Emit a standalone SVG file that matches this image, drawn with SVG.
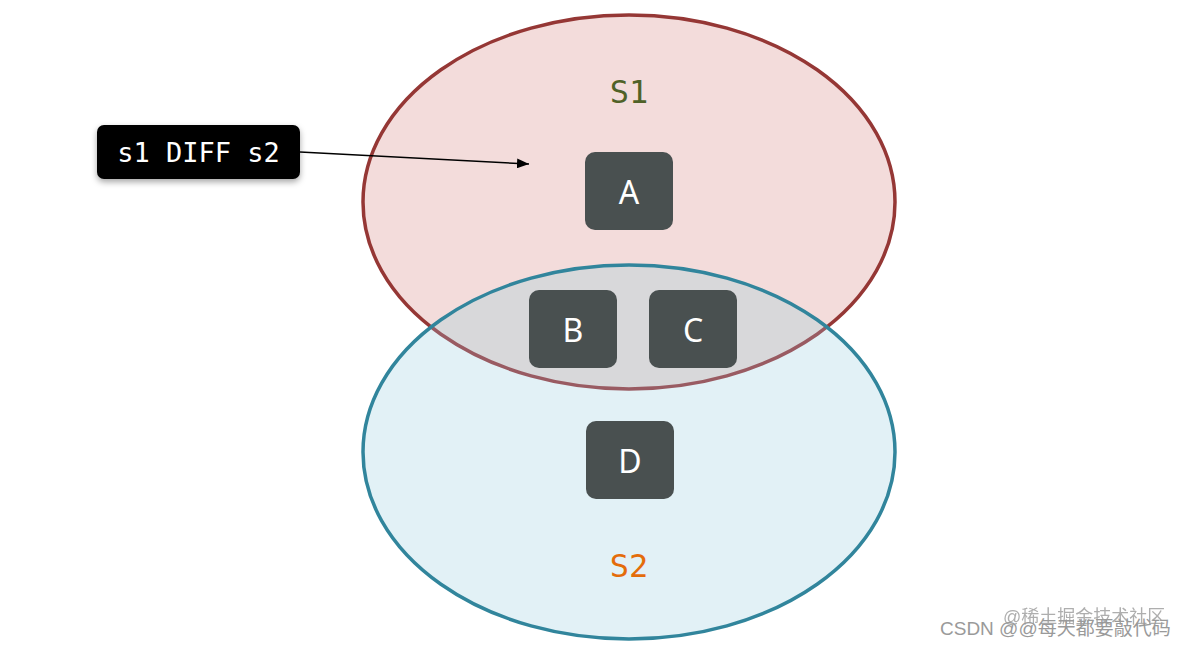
<svg xmlns="http://www.w3.org/2000/svg" width="1183" height="647" viewBox="0 0 1183 647">
<style>
.box{fill:#495050}
.lt{fill:#ffffff;font-family:"Noto Sans","DejaVu Sans",sans-serif;font-size:32px;text-anchor:middle;dominant-baseline:central}
.set{font-family:"DejaVu Sans Mono","Liberation Mono",monospace;font-size:32px;text-anchor:middle;dominant-baseline:central}
.wm{font-family:"Liberation Sans","Noto Sans CJK SC",sans-serif;fill:#9a9a9a}
</style>
<defs>
<clipPath id="clipS2"><ellipse cx="629" cy="452" rx="266" ry="187"/></clipPath>
<marker id="ah" viewBox="0 0 12 10" refX="12" refY="5" markerWidth="12" markerHeight="10" markerUnits="userSpaceOnUse" orient="auto"><path d="M0,0 L12,5 L0,10 z" fill="#000"/></marker>
<filter id="sh" x="-10%" y="-20%" width="120%" height="150%"><feDropShadow dx="0" dy="3" stdDeviation="3" flood-color="#000" flood-opacity="0.35"/></filter>
</defs>
<rect width="1183" height="647" fill="#ffffff"/>
<g id="S1">
<ellipse cx="629" cy="202" rx="266" ry="187" fill="#f3dcdb" stroke="#953735" stroke-width="3.5"/>
</g>
<g id="S2">
<ellipse cx="629" cy="452" rx="266" ry="187" fill="#e2f1f6"/>
<g clip-path="url(#clipS2)">
<ellipse cx="629" cy="202" rx="266" ry="187" fill="#d8d8da" stroke="#995b62" stroke-width="3.5"/>
</g>
<ellipse cx="629" cy="452" rx="266" ry="187" fill="none" stroke="#31859c" stroke-width="3.5"/>
</g>
<text class="set" x="629" y="92" fill="#4f6228">S1</text>
<text class="set" x="629" y="566" fill="#e46c0a">S2</text>
<g id="A"><rect class="box" x="585" y="152" width="88" height="78" rx="10"/><text class="lt" x="629" y="191">A</text></g>
<g id="B"><rect class="box" x="529" y="290" width="88" height="78" rx="10"/><text class="lt" x="573" y="329">B</text></g>
<g id="C"><rect class="box" x="649" y="290" width="88" height="78" rx="10"/><text class="lt" x="693" y="329">C</text></g>
<g id="D"><rect class="box" x="586" y="421" width="88" height="78" rx="10"/><text class="lt" x="630" y="460">D</text></g>
<g id="label">
<rect x="97" y="125" width="203" height="54" rx="7" fill="#000" filter="url(#sh)"/>
<text x="198.5" y="152" fill="#ffffff" font-family="DejaVu Sans Mono,Liberation Mono,monospace" font-size="27" text-anchor="middle" dominant-baseline="central">s1 DIFF s2</text>
</g>
<g id="connectors">
<line x1="300" y1="152" x2="529" y2="164" stroke="#000" stroke-width="1.5" marker-end="url(#ah)"/>
</g>
<text class="wm" x="1003" y="623" font-size="18" opacity="0.8">@稀土掘金技术社区</text>
<text class="wm" x="940" y="635" font-size="19">CSDN @@每天都要敲代码</text>
</svg>
